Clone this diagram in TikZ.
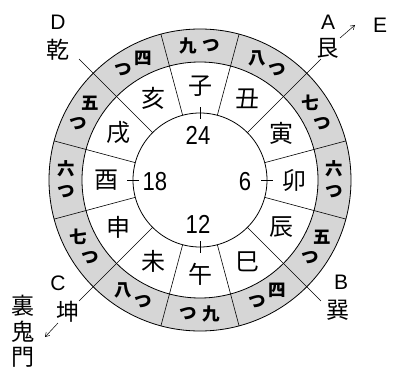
\documentclass[tikz,border=0pt]{standalone}
\usepackage{fontspec}
\setmainfont{Liberation Sans}
\newfontfamily\jp{Noto Sans CJK JP}
\newfontfamily\numf[FakeStretch=0.85]{Liberation Sans}
\usetikzlibrary{calc,arrows.meta}
\begin{document}
\begin{tikzpicture}[x=1pt,y=1pt,
  ring/.style={draw=black, line width=0.8pt},
  spoke/.style={draw=black, line width=0.6pt},
  branch/.style={font=\jp\fontsize{24}{24}\selectfont, inner sep=0pt},
  hour/.style={font=\jp\bfseries\fontsize{17.5}{17.5}\selectfont, inner sep=0pt},
  num/.style={font=\numf\fontsize{26}{26}\selectfont, inner sep=0pt},
  letter/.style={font=\fontsize{21}{21}\selectfont, inner sep=0pt},
  lbl/.style={font=\jp\fontsize{23}{23}\selectfont, inner sep=0pt},
  arr/.style={-{Straight Barb[length=4pt,width=5pt]}, line width=0.5pt}]
\useasboundingbox (0,0) rectangle (393,370);
\coordinate (c) at (200,190);
% shaded ring
\fill[black!16, even odd rule] (c) circle[radius=151] (c) circle[radius=118];
\draw[ring] (c) circle[radius=151];
\draw[ring] (c) circle[radius=118];
\draw[ring] (c) circle[radius=67];
% short spokes
\foreach \a in {15,75,105,165,195,255,285,345}{
  \coordinate (si\a) at ($(c)+(\a:67)$);
  \coordinate (so\a) at ($(c)+(\a:151)$);
  \draw[spoke] (si\a) -- (so\a);
}
% long spokes
\foreach \a/\n in {45/A,135/D,225/C,315/B}{
  \coordinate (si\n) at ($(c)+(\a:67)$);
  \coordinate (end\n) at ($(c)+(\a:171)$);
  \draw[spoke] (si\n) -- (end\n);
}
% ticks
\foreach \a in {0,90,180,270}{
  \coordinate (ta\a) at ($(c)+(\a:61)$);
  \coordinate (tb\a) at ($(c)+(\a:73)$);
  \draw[spoke] (ta\a) -- (tb\a);
}
% branches
\foreach \t/\a [count=\i] in {子/90,丑/60,寅/30,卯/0,辰/-30,巳/-60,午/-90,未/-120,申/-150,酉/180,戌/150,亥/120}{
  \node[branch] (br\i) at ($(c)+(\a:94)$) {\t};
}
% hour labels
\foreach \t/\a [count=\i] in {九/95,つ/85,八/65,つ/55,七/35,つ/25,六/5,つ/-5,五/-25,つ/-35,四/-55,つ/-65,九/-85,つ/-95,八/235,つ/245,七/205,つ/215,六/175,つ/185,五/145,つ/155,四/115,つ/125}{
  \node[hour] (hr\i) at ($(c)+(\a:134.5)$) {\t};
}
% numbers
\node[num] (n24) at (198,235) {24};
\node[num] (n12) at (198,146) {12};
\node[num] (n18) at (155,188) {18};
\node[num] (n6) at (245,188) {6};
% direction labels
\node[letter] (D) at (58,348) {D};
\node[lbl] (inui) at (58,320) {乾};
\node[letter] (A) at (328,348) {A};
\node[lbl] (ushitora) at (328,322) {艮};
\node[letter] (E) at (380,345) {E};
\node[letter] (B) at (341,88) {B};
\node[lbl] (tatsumi) at (338,60) {巽};
\node[letter] (C) at (58,87) {C};
\node[lbl] (hitsujisaru) at (68,58) {坤};
\node[lbl] (ura1) at (23,64) {裏};
\node[lbl] (ura2) at (23,38) {鬼};
\node[lbl] (ura3) at (23,13) {門};
% arrows
\coordinate (ea) at (340,332);
\coordinate (eb) at (355,345);
\draw[arr] (ea) -- (eb);
\coordinate (ua) at (58,47);
\coordinate (ub) at (45,33);
\draw[arr] (ua) -- (ub);
\end{tikzpicture}
\end{document}
